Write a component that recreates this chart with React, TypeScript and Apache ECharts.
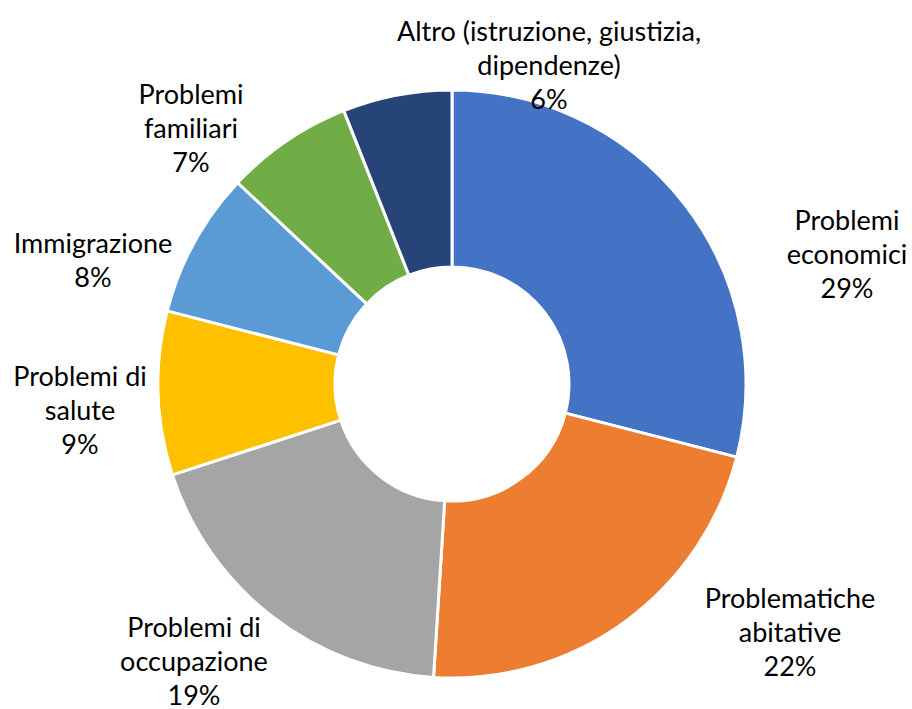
import React, { useEffect, useRef } from "react";
import * as echarts from "echarts";

const categories = [
  "Problemi\neconomici",
  "Problematiche\nabitative",
  "Problemi di\noccupazione",
  "Problemi di\nsalute",
  "Immigrazione",
  "Problemi\nfamiliari",
  "Altro (istruzione, giustizia,\ndipendenze)",
];
const values = [29, 22, 19, 9, 8, 7, 6];
const colors = ["#4472C4", "#ED7D31", "#A5A5A5", "#FFC000", "#5B9BD5", "#70AD47", "#264478"];
// label block centres (layout only)
const labelCenters: [number, number][] = [
  [847, 253],
  [790, 631],
  [194, 660],
  [80, 409],
  [93, 259],
  [191, 127],
  [549, 64],
];

export default function App() {
  const ref = useRef<HTMLDivElement>(null);
  useEffect(() => {
    document.body.style.margin = "0";
    const chart = echarts.init(ref.current!, null, { renderer: "svg" });
    chart.setOption({
      animation: false,
      backgroundColor: "#ffffff",
      series: [
        {
          type: "pie",
          center: [452, 384],
          radius: [117, 294],
          startAngle: 90,
          clockwise: true,
          avoidLabelOverlap: false,
          itemStyle: { borderColor: "#ffffff", borderWidth: 3 },
          label: {
            show: true,
            position: "outside",
            formatter: "{b}\n{c}%",
            fontFamily: "Lato",
            fontSize: 27,
            lineHeight: 34,
            color: "#000000",
          },
          labelLine: { show: false },
          labelLayout: (p: any) => {
            const c = labelCenters[p.dataIndex];
            return { x: c[0], y: c[1], align: "center", verticalAlign: "middle" };
          },
          data: categories.map((name, i) => ({
            name,
            value: values[i],
            itemStyle: { color: colors[i] },
          })),
        },
      ],
    });
    return () => chart.dispose();
  }, []);
  return <div ref={ref} style={{ width: 912, height: 709 }} />;
}
